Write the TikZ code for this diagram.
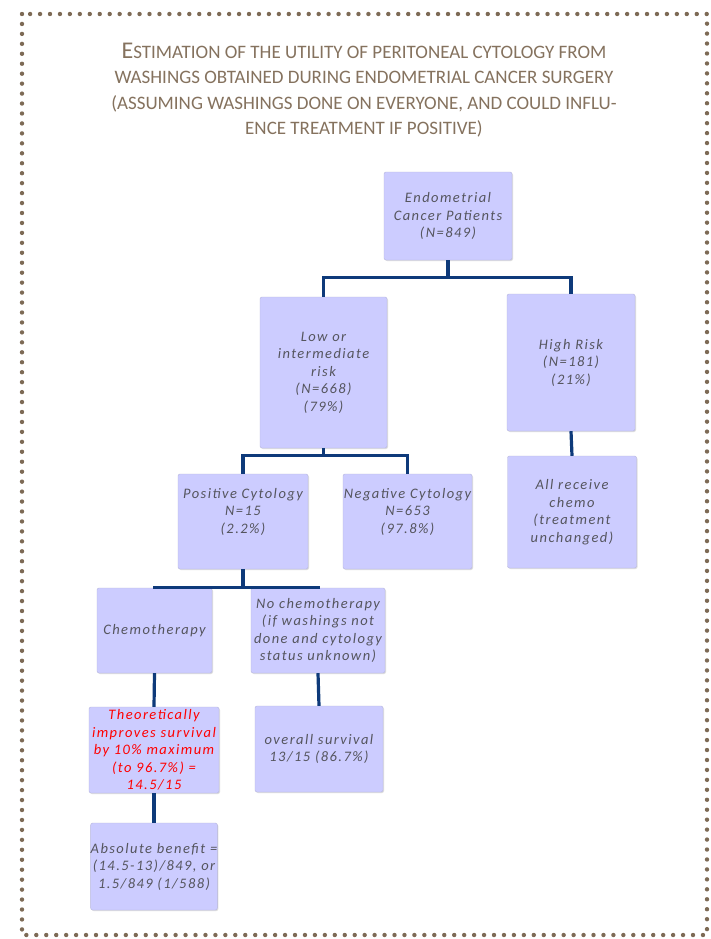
\documentclass[tikz,border=0pt]{standalone}
\usepackage{fontspec}
\setmainfont{Carlito}
\newfontfamily\cardfont[LetterSpace=10]{Carlito}
\usetikzlibrary{shadows}

\definecolor{boxfill}{HTML}{CCCCFF}
\definecolor{boxedge}{HTML}{B6B6DC}
\definecolor{linkblue}{HTML}{0E3A7A}
\definecolor{cardtext}{HTML}{55555E}
\definecolor{titlebrown}{HTML}{85725E}
\definecolor{dotbrown}{HTML}{7D6A55}

\tikzset{
  card/.style={draw=boxedge, fill=boxfill, rounded corners=2pt, align=center,
    inner sep=0pt, text=cardtext,
    font=\cardfont\itshape\fontsize{14.5}{17.5}\selectfont,
    drop shadow={shadow xshift=1pt, shadow yshift=-1pt, fill=black!25}},
  link/.style={draw=linkblue, line width=3.2pt},
  heading/.style={align=center, text=titlebrown,
    font=\fontsize{19}{25.3}\selectfont},
}
\newcommand{\bigE}{{\fontsize{24}{25.3}\selectfont E}}

\begin{document}
\begin{tikzpicture}[x=1pt, y=-1pt]
  \fill[white] (0,0) rectangle (711,939);
  \useasboundingbox (0,0) rectangle (711,939);
  \draw[dotbrown, line width=4.4pt, line cap=round, dash pattern=on 0pt off 9.95pt]
    (22,14) rectangle (707,935);

  \node[heading] (title) at (364,90)
    {\bigE STIMATION OF THE UTILITY OF PERITONEAL CYTOLOGY FROM\\
     WASHINGS OBTAINED DURING ENDOMETRIAL CANCER SURGERY\\
     (ASSUMING WASHINGS DONE ON EVERYONE, AND COULD INFLU-\\
     ENCE TREATMENT IF POSITIVE)};

  % tree
  \node[card, minimum width=128pt, minimum height=88pt] (endo) at (448,216)
    {Endometrial\\Cancer Patients\\(N=849)};
  \node[card, minimum width=127pt, minimum height=151pt] (lowrisk) at (323.5,372.5)
    {Low or\\intermediate\\risk\\(N=668)\\(79\%)};
  \node[card, minimum width=128pt, minimum height=137pt] (highrisk) at (571,362.5)
    {High Risk\\(N=181)\\(21\%)};
  \node[card, minimum width=130pt, minimum height=95pt] (poscyto) at (243,521.5)
    {Positive Cytology\\N=15\\(2.2\%)\\[4pt]};
  \node[card, minimum width=129pt, minimum height=95pt] (negcyto) at (407.5,521.5)
    {Negative Cytology\\N=653\\(97.8\%)\\[4pt]};
  \node[card, minimum width=129pt, minimum height=112pt] (allchemo) at (572,512)
    {All receive\\chemo\\(treatment\\unchanged)};
  \node[card, minimum width=115pt, minimum height=85pt] (chemo) at (154.5,630.5)
    {Chemotherapy};
  \node[card, minimum width=134pt, minimum height=85pt] (nochemo) at (318,630.5)
    {No chemotherapy\\(if washings not\\done and cytology\\status unknown)};
  \node[card, minimum width=130pt, minimum height=86pt, text=red] (theory) at (154,750)
    {Theoretically\\improves survival\\by 10\% maximum\\(to 96.7\%) =\\14.5/15};
  \node[card, minimum width=128pt, minimum height=86pt] (survival) at (319,749)
    {overall survival\\13/15 (86.7\%)};
  \node[card, minimum width=126pt, minimum height=87pt] (benefit) at (154,866.5)
    {Absolute benefit =\\(14.5-13)/849, or\\1.5/849 (1/588)};

  \draw[link] (endo.south) -- ++(0,17) -| (lowrisk.north);
  \draw[link] (endo.south) -- ++(0,17) -| (highrisk.north);
  \draw[link] (lowrisk.south) -- ++(0,7) -| (poscyto.north);
  \draw[link] (lowrisk.south) -- ++(0,7) -| (negcyto.north);
  \draw[link] (highrisk.south) -- (allchemo.north);
  \draw[link] (poscyto.south) -- ++(0,18.5) -| (chemo.north);
  \draw[link] (poscyto.south) -- ++(0,18.5) -| (nochemo.north);
  \draw[link] (chemo.south) -- (theory.north);
  \draw[link] (theory.south) -- (benefit.north);
  \draw[link] (nochemo.south) -- (survival.north);
\end{tikzpicture}
\end{document}
